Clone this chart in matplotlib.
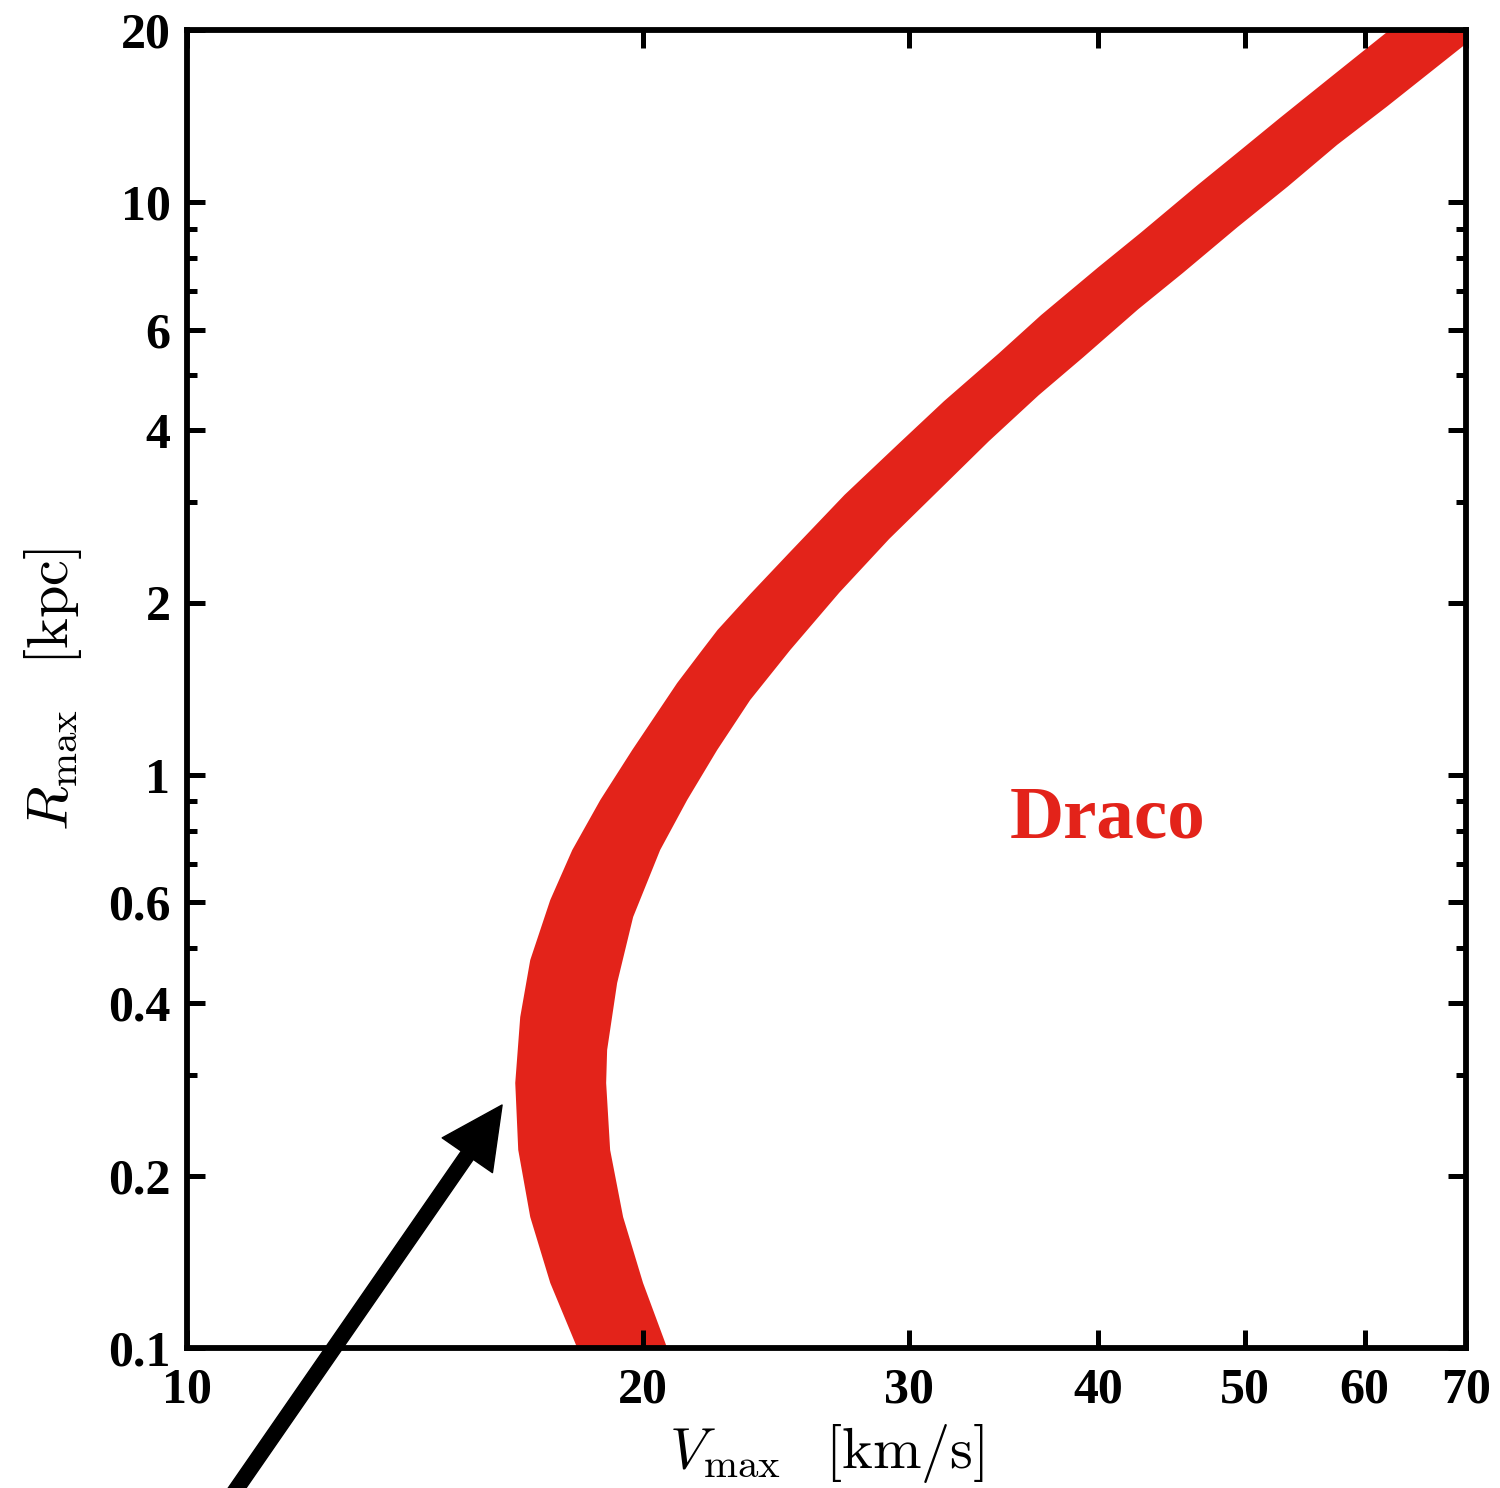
import numpy as np
import matplotlib
matplotlib.use("Agg")
import matplotlib.pyplot as plt

# band edges (V_max in km/s, R_max in kpc), bottom to top
left_v = [18.107, 17.378, 16.857, 16.552, 16.477, 16.602, 16.857, 17.378, 17.970,
          18.753, 19.686, 21.079, 21.897, 22.416, 23.550, 25.020, 27.195, 29.548,
          31.638, 34.390, 36.675, 40.007, 42.667, 46.543, 49.638, 52.729, 57.104,
          62.313]
left_r = [0.1000, 0.1299, 0.1693, 0.2217, 0.2902, 0.3783, 0.4757, 0.6055, 0.7403,
          0.9052, 1.1066, 1.4486, 1.6542, 1.7934, 2.0693, 2.4509, 3.0870, 3.7985,
          4.4989, 5.4520, 6.3595, 7.7068, 8.8498, 10.728, 12.320, 14.039, 16.628,
          20.0]
right_v = [20.761, 20.013, 19.416, 19.036, 18.921, 18.949, 19.240, 19.714, 20.541,
           21.403, 22.402, 23.556, 25.035, 26.985, 29.110, 31.637, 33.869, 36.531,
           39.109, 42.503, 45.502, 49.452, 53.345, 57.537, 62.068, 69.795, 71.766]
right_r = [0.1000, 0.1299, 0.1693, 0.2217, 0.2902, 0.3313, 0.4337, 0.5655, 0.7403,
           0.9052, 1.1066, 1.3530, 1.6542, 2.0851, 2.5865, 3.2084, 3.8291, 4.6051,
           5.3693, 6.5068, 7.5322, 9.0584, 10.647, 12.605, 14.703, 18.805, 20.0]

x_ticks = [10, 20, 30, 40, 50, 60, 70]
y_major = [0.1, 0.2, 0.4, 0.6, 1, 2, 4, 6, 10, 20]
y_labels = ["0.1", "0.2", "0.4", "0.6", "1", "2", "4", "6", "10", "20"]
y_minor = [0.3, 0.5, 0.7, 0.8, 0.9, 3, 5, 7, 8, 9]

red = "#e3231a"
plt.rcParams["mathtext.fontset"] = "cm"
serif = ["Liberation Serif", "DejaVu Serif"]

fig = plt.figure(figsize=(15, 14.88), dpi=100)
ax = fig.add_axes([0.1247, 0.0941, 0.8526, 0.8857])
ax.set_xscale("log")
ax.set_yscale("log")
ax.set_xlim(10, 70)
ax.set_ylim(0.1, 20)

ax.fill(np.concatenate([left_v, right_v[::-1]]),
        np.concatenate([left_r, right_r[::-1]]),
        color=red, lw=0)

ax.set_xticks(x_ticks)
ax.set_xticklabels([str(t) for t in x_ticks])
ax.xaxis.set_minor_locator(matplotlib.ticker.NullLocator())
ax.set_yticks(y_major)
ax.set_yticklabels(y_labels)
ax.set_yticks(y_minor, minor=True)
ax.yaxis.set_minor_formatter(matplotlib.ticker.NullFormatter())

for lab in ax.get_xticklabels() + ax.get_yticklabels():
    lab.set_family(serif)
    lab.set_fontweight("bold")
    lab.set_fontsize(36)

ax.tick_params(which="both", direction="in", top=True, right=True, width=3.6)
ax.tick_params(which="major", length=13)
ax.tick_params(which="minor", length=7)
ax.tick_params(axis="y", pad=12)
ax.tick_params(axis="x", pad=14)
for s in ax.spines.values():
    s.set_linewidth(4.2)

ax.set_xlabel(r"$V_{\rm max}\;\;\;[{\rm km/s}]$", fontsize=42, labelpad=6)
ax.set_ylabel(r"$R_{\rm max}\;\;\;[{\rm kpc}]$", fontsize=42, labelpad=17)

ax.text(40.55, 0.78, "Draco", color=red, fontsize=54, fontweight="bold",
        family=serif, ha="center", va="baseline")

ax.annotate("", xy=(16.15, 0.2656), xycoords="data",
            xytext=(233 / 1500, -0.004), textcoords="figure fraction",
            annotation_clip=False,
            arrowprops=dict(width=10.5, headwidth=44, headlength=44, shrink=0,
                            color="black", clip_on=False))

fig.savefig("out.png", dpi=100)
